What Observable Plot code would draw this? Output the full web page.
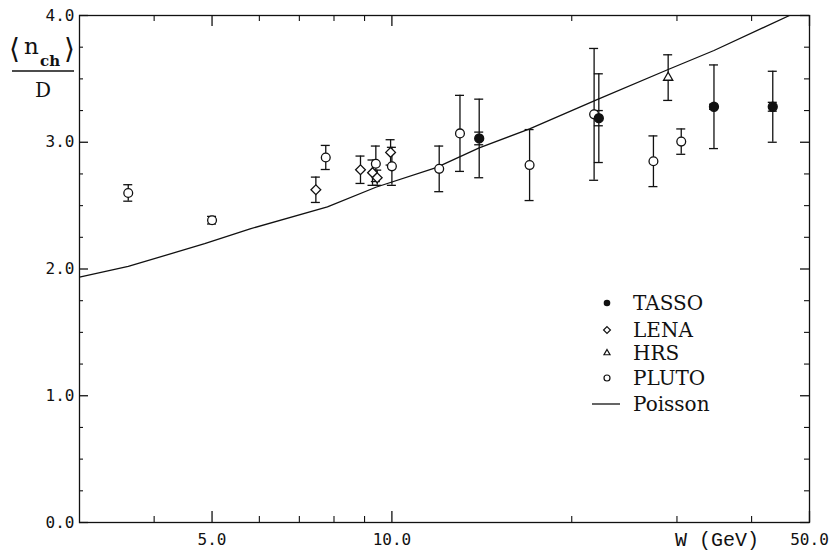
<!DOCTYPE html>
<html><head><meta charset="utf-8">
<script src="https://cdn.jsdelivr.net/npm/d3@7"></script>
<script src="https://cdn.jsdelivr.net/npm/@observablehq/plot@0.6"></script>
<style>
html,body{margin:0;padding:0;background:#fff;}
#wrap{position:relative;width:830px;height:552px;overflow:hidden;background:#fff;}
#wrap svg.overlay{position:absolute;left:0;top:0;pointer-events:none;}
</style></head><body><div id="wrap"></div>
<script>
// ---- data ----
const tassoW = [14.0, 22.2, 34.6, 43.4];
const tassoN = [3.03, 3.19, 3.28, 3.28];
const tassoErr = [0.31, 0.35, 0.33, 0.28];
const tassoStat = [0.05, 0.06, 0.02, 0.035];

const lenaW = [7.46, 8.86, 9.28, 9.45, 9.95];
const lenaN = [2.625, 2.783, 2.76, 2.72, 2.92];
const lenaErr = [0.10, 0.108, 0.10, 0.06, 0.10];

const hrsW = [29.0];
const hrsN = [3.51];
const hrsErr = [0.18];

const plutoW = [3.62, 5.0, 7.75, 9.4, 10.0, 12.0, 13.0, 17.0, 21.8, 27.4, 30.5];
const plutoN = [2.60, 2.385, 2.88, 2.83, 2.81, 2.79, 3.07, 2.82, 3.22, 2.85, 3.005];
const plutoErr = [0.065, 0.03, 0.095, 0.14, 0.15, 0.18, 0.30, 0.28, 0.52, 0.20, 0.10];

const poissonW = [3.0, 3.62, 4.86, 5.79, 7.8, 9.4, 11.86, 14.0, 17.0, 22.0, 29.0, 34.6, 46.3];
const poissonN = [1.935, 2.02, 2.20, 2.317, 2.49, 2.645, 2.80, 2.956, 3.105, 3.335, 3.574, 3.724, 4.0];

const yMajor = [0, 1, 2, 3, 4];
const yMinor = [0.25, 0.5, 0.75, 1.25, 1.5, 1.75, 2.25, 2.5, 2.75, 3.25, 3.5, 3.75];
const xMajor = [5, 10, 50];
const xMinor = [4, 6, 7, 8, 9, 20, 30, 40];

const legendNames = ["TASSO", "LENA", "HRS", "PLUTO", "Poisson"];
const yLabelTop = "n", yLabelSub = "ch", yLabelBottom = "D";
const xLabel = "W (GeV)";

// ---- tables ----
const rows = (set, W, N, E) => W.map((w, i) => ({set, W: w, n: N[i], lo: N[i] - E[i], hi: N[i] + E[i]}));
const tasso = rows("TASSO", tassoW, tassoN, tassoErr);
const tassoS = rows("TASSO", tassoW, tassoN, tassoStat);
const lena = rows("LENA", lenaW, lenaN, lenaErr);
const hrs = rows("HRS", hrsW, hrsN, hrsErr);
const pluto = rows("PLUTO", plutoW, plutoN, plutoErr);
const all = [...pluto, ...lena, ...hrs, ...tasso];
const poisson = poissonW.map((w, i) => ({W: w, n: poissonN[i]}));

const ink = "#111";
const capOpts = {x1: "W", x2: "W", insetLeft: -4.5, insetRight: -4.5, stroke: ink, strokeWidth: 1.3};

const chart = Plot.plot({
  width: 830, height: 552,
  marginLeft: 79, marginRight: 21, marginTop: 15, marginBottom: 30,
  x: {type: "log", domain: [3, 50]},
  y: {domain: [0, 4]},
  style: {fontFamily: "'DejaVu Sans Mono', monospace", fontSize: "16px", background: "white", color: ink},
  marks: [
    Plot.frame({stroke: ink, strokeWidth: 1.3}),
    // inward ticks: left / right
    Plot.ruleY(yMajor, {x1: 3, x2: 3, insetLeft: 9, stroke: ink, strokeWidth: 1.3}),
    Plot.ruleY(yMinor, {x1: 3, x2: 3, insetLeft: 4, stroke: ink, strokeWidth: 1.1}),
    Plot.ruleY(yMajor, {x1: 50, x2: 50, insetRight: 9, stroke: ink, strokeWidth: 1.3}),
    Plot.ruleY(yMinor, {x1: 50, x2: 50, insetRight: 5, stroke: ink, strokeWidth: 1.1}),
    // inward ticks: bottom / top
    Plot.ruleX(xMajor, {y1: 0, y2: 0, insetBottom: 11, stroke: ink, strokeWidth: 1.3}),
    Plot.ruleX(xMinor, {y1: 0, y2: 0, insetBottom: 6, stroke: ink, strokeWidth: 1.1}),
    Plot.ruleX(xMajor, {y1: 4, y2: 4, insetTop: 11, stroke: ink, strokeWidth: 1.3}),
    Plot.ruleX(xMinor, {y1: 4, y2: 4, insetTop: 6, stroke: ink, strokeWidth: 1.1}),
    Plot.axisY(yMajor, {tickSize: 0, tickPadding: 5, tickFormat: d => d.toFixed(1), label: null}),
    Plot.axisX(xMajor, {tickSize: 0, tickPadding: 11, tickFormat: d => d.toFixed(1), label: null}),
    // Poisson curve
    Plot.line(poisson, {x: "W", y: "n", stroke: ink, strokeWidth: 1.3, clip: true}),
    // error bars
    Plot.ruleX(all, {x: "W", y1: "lo", y2: "hi", stroke: ink, strokeWidth: 1.3}),
    Plot.ruleY(all, {...capOpts, y: "hi"}),
    Plot.ruleY(all, {...capOpts, y: "lo"}),
    Plot.ruleY(tassoS, {...capOpts, y: "hi"}),
    Plot.ruleY(tassoS, {...capOpts, y: "lo"}),
    // symbols
    Plot.dot(pluto, {x: "W", y: "n", symbol: "circle", r: 4.4, fill: "white", stroke: ink, strokeWidth: 1.3}),
    Plot.dot(lena, {x: "W", y: "n", symbol: "diamond2", r: 4.4, fill: "white", stroke: ink, strokeWidth: 1.3}),
    Plot.dot(hrs, {x: "W", y: "n", symbol: "triangle2", r: 4.4, fill: "white", stroke: ink, strokeWidth: 1.3}),
    Plot.dot(tasso, {x: "W", y: "n", symbol: "circle", r: 4.4, fill: ink, stroke: ink})
  ]
});
const wrap = document.getElementById("wrap");
wrap.appendChild(chart);

// ---- overlay: y label, x label, legend ----
const ov = d3.select(wrap).append("svg").attr("class", "overlay").attr("width", 830).attr("height", 552);
const serif = "'DejaVu Serif', serif";
// y label fraction
ov.append("text").attr("x", 9).attr("y", 58).attr("font-family", "'DejaVu Sans', sans-serif").attr("font-size", 28).attr("fill", ink).text("\u27E8");
ov.append("text").attr("x", 24).attr("y", 54).attr("font-family", serif).attr("font-size", 23).attr("fill", ink).text(yLabelTop);
ov.append("text").attr("x", 40).attr("y", 66).attr("font-family", serif).attr("font-weight", "bold").attr("font-size", 15).attr("fill", ink).text(yLabelSub);
ov.append("text").attr("x", 64).attr("y", 58).attr("font-family", "'DejaVu Sans', sans-serif").attr("font-size", 28).attr("fill", ink).text("\u27E9");
ov.append("line").attr("x1", 12).attr("x2", 74).attr("y1", 71).attr("y2", 71).attr("stroke", ink).attr("stroke-width", 1.6);
ov.append("text").attr("x", 43).attr("y", 97).attr("text-anchor", "middle").attr("font-family", serif).attr("font-size", 20).attr("fill", ink).text(yLabelBottom);
// x label
ov.append("text").attr("x", 675).attr("y", 546).attr("font-family", "'Liberation Mono', monospace").attr("font-size", 20).attr("fill", ink).text(xLabel);
// legend
const lx = 607, tx = 633, ly = [303, 330, 353, 378, 404];
const lg = ov.append("g");
lg.append("circle").attr("cx", lx).attr("cy", ly[0]).attr("r", 3.3).attr("fill", ink);
lg.append("path").attr("transform", `translate(${lx},${ly[1]})`).attr("d", d3.symbol(d3.symbolDiamond2, 30)()).attr("fill", "white").attr("stroke", ink).attr("stroke-width", 1.2);
lg.append("path").attr("transform", `translate(${lx},${ly[2]})`).attr("d", d3.symbol(d3.symbolTriangle2, 26)()).attr("fill", "white").attr("stroke", ink).attr("stroke-width", 1.2);
lg.append("circle").attr("cx", lx).attr("cy", ly[3]).attr("r", 3).attr("fill", "white").attr("stroke", ink).attr("stroke-width", 1.2);
lg.append("line").attr("x1", 592).attr("x2", 620).attr("y1", ly[4]).attr("y2", ly[4]).attr("stroke", ink).attr("stroke-width", 1.3);
legendNames.forEach((name, i) => {
  lg.append("text").attr("x", tx).attr("y", ly[i] + 7).attr("font-family", serif).attr("font-size", 20).attr("fill", ink).text(name);
});
</script></body></html>
